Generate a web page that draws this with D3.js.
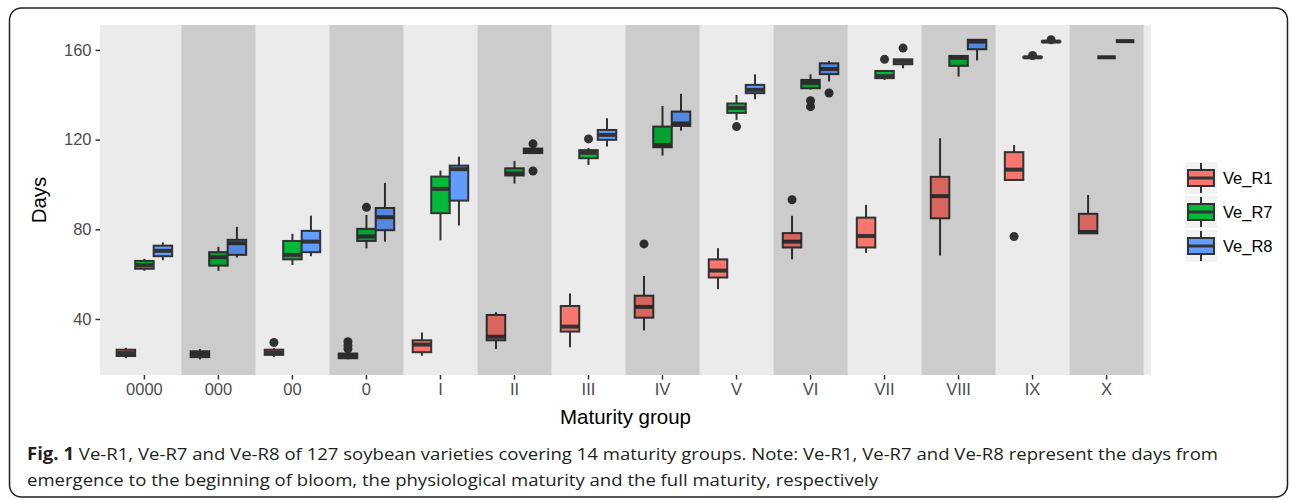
<!DOCTYPE html>
<html><head><meta charset="utf-8">
<script src="https://cdn.jsdelivr.net/npm/d3@7"></script>
<style>body{margin:0;background:#fff}svg{display:block}</style>
</head><body>
<svg id="chart" width="1292" height="500"></svg>
<script>
const groups = ["0000","000","00","0","I","II","III","IV","V","VI","VII","VIII","IX","X"];
const seriesNames = ["Ve_R1","Ve_R7","Ve_R8"];
const seriesColors = ["#F8766D","#00BA38","#619CFF"];
const yTicks = [40, 80, 120, 160];
// each entry: [lower whisker, Q1, median, Q3, upper whisker]
const veR1 = [[22.5,23.5,24.8,26.3,27.2],[22,23,24.4,25.6,26.6],[23,24,25,26.3,27],[22,22.5,23.6,24.6,25.5],[23.6,25.2,28.6,30.5,34],[26.6,30.5,32.1,41.8,43],[27.4,34.4,36.6,45.8,51.4],[34.9,40.6,45.4,50.4,59.2],[53.3,58.5,61.6,66.6,71.6],[66.6,71.9,74.5,78.3,86],[69.5,71.9,77,85.2,90.9],[68.3,84.9,94.8,103.4,120.6],[101.8,102,106.6,114.4,117.6],[78,78.2,78.8,86.9,95.3]];
const veR7 = [[61.5,62.4,64.1,65.9,66.8],[61.5,63.8,67.6,69.8,72.2],[64.1,66.6,68.6,74.8,78],[71.5,74.8,76.8,80.2,86.4],[75.1,87.2,98,103.5,106.2],[100.4,104,104.9,107.2,110.5],[108.7,111.7,114.1,115.3,116.3],[112.9,116.6,117.6,125.8,135],[128.8,131.9,134.1,136.1,139.9],[142.3,142.9,145.3,146.6,149.1],[146.6,147.4,148.3,150.6,150.7],[148.1,152.9,156.5,157.3,157.5],[156.5,156.6,156.7,156.8,157],[156.7,156.7,156.7,156.7,156.7]];
const veR8 = [[66.2,68,70.4,72.7,74.2],[67.4,68.6,73.8,75.3,81.1],[68,69.8,74.5,79.3,86.1],[74.5,79.6,85.4,89.5,100.7],[81.7,92.8,106.8,108.4,112.4],[113.9,114,115,116,116.1],[116.9,119.9,122.1,124.3,129.5],[124,126.1,127.2,132.5,140.4],[138,140.7,142.2,144.4,149.1],[145.9,149.2,151.5,154,155.1],[151.8,153.6,154.8,155.8,156],[155.3,160.3,163.7,164.5,164.6],[163.5,163.6,163.7,163.8,164],[163.9,163.9,163.9,163.9,163.9]];
const veR1Outliers = [[],[],[29.5],[26.7,28.2,29.9],[],[],[],[73.5],[],[93.2],[],[],[76.8],[]];
const veR7Outliers = [[],[],[],[89.8],[],[],[120.3],[],[125.8],[134.7,137.3],[155.8],[],[157.5],[]];
const veR8Outliers = [[],[],[],[],[],[106,118.1],[],[],[],[140.8],[160.8],[],[164.5],[]];
const captionBold = "Fig. 1";
const captionLine1 = " Ve-R1, Ve-R7 and Ve-R8 of 127 soybean varieties covering 14 maturity groups. Note: Ve-R1, Ve-R7 and Ve-R8 represent the days from";
const captionLine2 = "emergence to the beginning of bloom, the physiological maturity and the full maturity, respectively";

const svg = d3.select("#chart");
const P = {l:100, r:1151, t:25, b:375};
const stats = [veR1, veR7, veR8];
const outs = [veR1Outliers, veR7Outliers, veR8Outliers];

// outer frame
svg.append("rect").attr("x",9.5).attr("y",8).attr("width",1278).attr("height",489)
  .attr("rx",12).attr("fill","none").attr("stroke","#231F20").attr("stroke-width",1.5);

const x = d3.scaleBand().domain(groups).range([P.l,P.r]).paddingInner(0).paddingOuter(0.1);
const xs = d3.scaleBand().domain(seriesNames).range([-x.bandwidth()*0.375, x.bandwidth()*0.375]);
const y = d3.scaleLinear().domain([15.03, 171.1]).range([P.b, P.t]);

svg.append("rect").attr("x",P.l).attr("y",P.t).attr("width",P.r-P.l).attr("height",P.b-P.t).attr("fill","#EBEBEB");

const bw = xs.bandwidth();
const gBoxes = svg.append("g");
seriesNames.forEach((s, si) => {
  groups.forEach((g, gi) => {
    const d = stats[si][gi];
    const cx = x(g) + x.bandwidth()/2 + xs(s) + bw/2;
    const gg = gBoxes.append("g");
    gg.append("line").attr("x1",cx).attr("x2",cx).attr("y1",y(d[3])).attr("y2",y(d[4])).attr("stroke","#333").attr("stroke-width",2);
    gg.append("line").attr("x1",cx).attr("x2",cx).attr("y1",y(d[1])).attr("y2",y(d[0])).attr("stroke","#333").attr("stroke-width",2);
    gg.append("rect").attr("x",cx-bw/2).attr("y",y(d[3])).attr("width",bw).attr("height",Math.max(0,y(d[1])-y(d[3])))
      .attr("fill",seriesColors[si]).attr("stroke","#333").attr("stroke-width",2);
    gg.append("line").attr("x1",cx-bw/2).attr("x2",cx+bw/2).attr("y1",y(d[2])).attr("y2",y(d[2])).attr("stroke","#333").attr("stroke-width",4);
    outs[si][gi].forEach(v => {
      gg.append("circle").attr("cx",cx).attr("cy",y(v)).attr("r",4.5).attr("fill","#333");
    });
  });
});

// dark alternating bands over boxes
svg.append("g").selectAll("rect").data(groups.filter((g,i)=>i%2===1)).join("rect")
  .attr("x",d=>x(d)).attr("y",P.t).attr("width",x.bandwidth()).attr("height",P.b-P.t)
  .attr("fill","#000").attr("fill-opacity",0.13);

const font = "Liberation Sans, Arial, Helvetica, sans-serif";
// y axis
const ya = svg.append("g").attr("transform",`translate(${P.l},0)`)
  .call(d3.axisLeft(y).tickValues(yTicks).tickSize(4.5).tickPadding(4));
ya.select(".domain").remove();
ya.selectAll(".tick line").attr("stroke","#333").attr("stroke-width",1.5);
ya.selectAll(".tick text").attr("fill","#4D4D4D").style("font-family",font).style("font-size","16.5px");
// x axis
const xa = svg.append("g").attr("transform",`translate(0,${P.b})`)
  .call(d3.axisBottom(x).tickSize(4.5).tickPadding(4));
xa.select(".domain").remove();
xa.selectAll(".tick line").attr("stroke","#333").attr("stroke-width",1.5);
xa.selectAll(".tick text").attr("fill","#4D4D4D").style("font-family",font).style("font-size","16.5px");

svg.append("text").attr("x",(P.l+P.r)/2).attr("y",424).attr("text-anchor","middle")
  .style("font-family",font).style("font-size","20.5px").attr("fill","#000").text("Maturity group");
svg.append("text").attr("transform",`translate(46,${(P.t+P.b)/2}) rotate(-90)`).attr("text-anchor","middle")
  .style("font-family",font).style("font-size","20.5px").attr("fill","#000").text("Days");

// legend
const lg = svg.append("g");
seriesNames.forEach((s, i) => {
  const ky = 162 + i*34;
  const kx = 1185;
  lg.append("rect").attr("x",kx).attr("y",ky).attr("width",32).attr("height",32).attr("fill","#F2F2F2");
  const cx = kx+16;
  lg.append("line").attr("x1",cx).attr("x2",cx).attr("y1",ky+1).attr("y2",ky+31).attr("stroke","#333").attr("stroke-width",2);
  lg.append("rect").attr("x",kx+3).attr("y",ky+8).attr("width",26).attr("height",16).attr("fill",seriesColors[i]).attr("stroke","#333").attr("stroke-width",2);
  lg.append("line").attr("x1",kx+3).attr("x2",kx+29).attr("y1",ky+16).attr("y2",ky+16).attr("stroke","#333").attr("stroke-width",3);
  lg.append("text").attr("x",1223).attr("y",ky+22).style("font-family",font).style("font-size","16.5px").attr("fill","#000").text(s);
});

// caption
const cf = "'Open Sans', 'Noto Sans', sans-serif";
const t1 = svg.append("text").attr("x",27).attr("y",460).style("font-family",cf).style("font-size","17px").attr("fill","#231F20");
t1.append("tspan").style("font-weight","bold").text(captionBold);
t1.append("tspan").text(captionLine1);
const t2 = svg.append("text").attr("x",27).attr("y",486).style("font-family",cf).style("font-size","17px").attr("fill","#231F20").text(captionLine2);
const w1 = t1.node().getComputedTextLength();
const target1 = 1218-27;
t1.attr("textLength",target1).attr("lengthAdjust","spacingAndGlyphs");
const w2 = t2.node().getComputedTextLength();
t2.attr("textLength", w2*target1/w1).attr("lengthAdjust","spacingAndGlyphs");
</script>
</body></html>
